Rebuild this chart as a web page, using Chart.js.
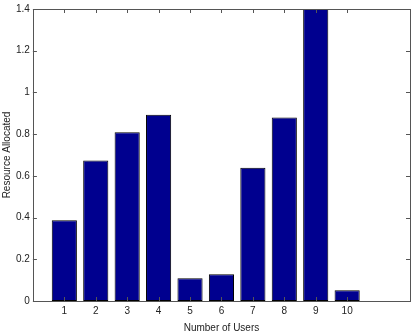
<!DOCTYPE html>
<html><head><meta charset="utf-8">
<script src="https://cdn.jsdelivr.net/npm/chart.js@4/dist/chart.umd.min.js"></script>
<style>html,body{margin:0;padding:0;background:#fff}#wrap{width:418px;height:334px}</style>
</head><body><div id="wrap"><canvas id="c" width="418" height="334"></canvas></div>
<script>
const users = [1, 2, 3, 4, 5, 6, 7, 8, 9, 10];
const resource = [0.387, 0.674, 0.809, 0.893, 0.109, 0.128, 0.639, 0.88, 1.4, 0.051];
const xTicks = [1, 2, 3, 4, 5, 6, 7, 8, 9, 10];
const yTicks = [0, 0.2, 0.4, 0.6, 0.8, 1, 1.2, 1.4];

const boxTicks = {
  id: 'boxTicks',
  afterDraw(chart) {
    const {ctx, chartArea: a, scales} = chart;
    ctx.save();
    ctx.strokeStyle = '#555';
    ctx.lineWidth = 1;
    ctx.strokeRect(Math.round(a.left) + 0.5, Math.round(a.top) + 0.5, Math.round(a.right - a.left), Math.round(a.bottom - a.top));
    const L = 4;
    ctx.beginPath();
    xTicks.forEach(v => {
      const p = Math.round(scales.x.getPixelForValue(v)) + 0.5;
      ctx.moveTo(p, a.bottom); ctx.lineTo(p, a.bottom - L);
      ctx.moveTo(p, a.top); ctx.lineTo(p, a.top + L);
    });
    yTicks.forEach(v => {
      const p = Math.round(scales.y.getPixelForValue(v)) + 0.5;
      ctx.moveTo(a.left, p); ctx.lineTo(a.left + L, p);
      ctx.moveTo(a.right, p); ctx.lineTo(a.right - L, p);
    });
    ctx.stroke();
    ctx.restore();
  }
};

new Chart(document.getElementById('c'), {
  type: 'bar',
  data: {
    datasets: [{
      data: users.map((u, i) => ({x: u, y: resource[i]})),
      backgroundColor: '#00008f',
      borderColor: '#000000',
      borderWidth: 1,
      borderSkipped: false,
      barPercentage: 0.8,
      categoryPercentage: 1.0
    }]
  },
  options: {
    responsive: false,
    animation: false,
    layout: {padding: {left: 1, right: 8, top: 2, bottom: 0}},
    plugins: {legend: {display: false}, tooltip: {enabled: false}},
    scales: {
      x: {
        type: 'linear', min: 0, max: 12, offset: false,
        afterBuildTicks: s => { s.ticks = xTicks.map(v => ({value: v})); },
        grid: {display: false, drawTicks: false, offset: false},
        border: {display: false},
        ticks: {font: {family: 'Liberation Sans', size: 10}, color: '#222', padding: 4, maxRotation: 0},
        title: {display: true, text: 'Number of Users', font: {family: 'Liberation Sans', size: 10}, color: '#222', padding: {top: 1, bottom: 0}}
      },
      y: {
        type: 'linear', min: 0, max: 1.4,
        afterBuildTicks: s => { s.ticks = yTicks.map(v => ({value: v})); },
        grid: {display: false, drawTicks: false},
        border: {display: false},
        ticks: {font: {family: 'Liberation Sans', size: 10}, color: '#222', padding: 3,
          callback: v => String(Math.round(v * 10) / 10)},
        title: {display: true, text: 'Resource Allocated', font: {family: 'Liberation Sans', size: 10}, color: '#222', padding: {top: 0, bottom: 0}}
      }
    }
  },
  plugins: [boxTicks]
});
</script></body></html>
